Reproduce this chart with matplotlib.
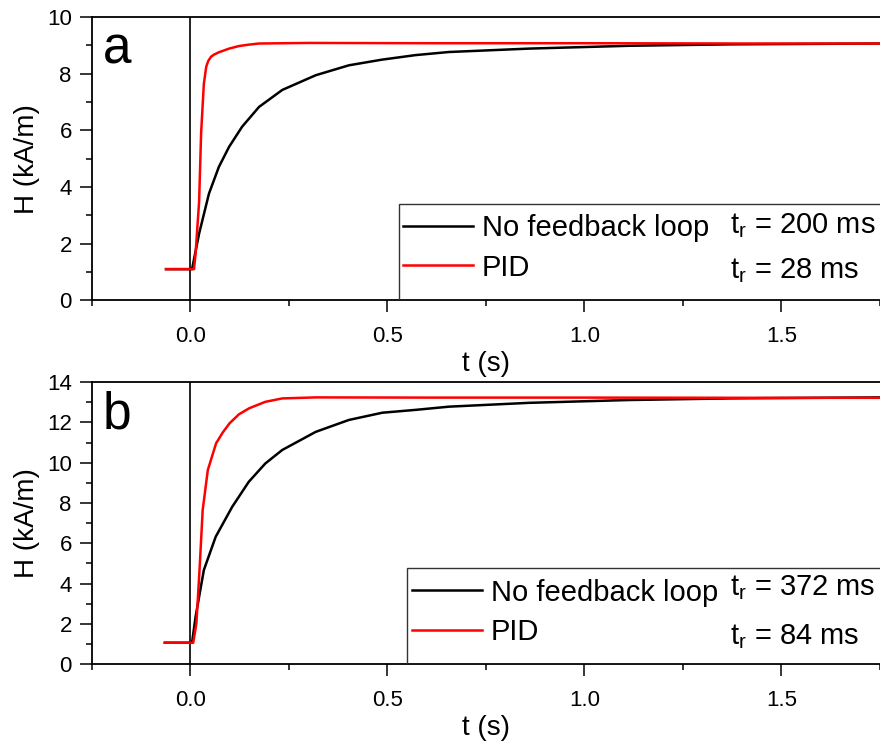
import numpy as np
from matplotlib import pyplot as plt
from matplotlib.patches import Rectangle

plt.rcParams['font.family'] = ['Liberation Sans', 'DejaVu Sans']
plt.rcParams['mathtext.fontset'] = 'custom'
plt.rcParams['mathtext.rm'] = 'Liberation Sans'
plt.rcParams['mathtext.it'] = 'Liberation Sans'

# panel a: H (kA/m) vs t (s)
ta_negro = [-0.062, 0.004, 0.022, 0.047, 0.072, 0.098, 0.131, 0.174, 0.233, 0.318,
            0.402, 0.486, 0.571, 0.656, 0.859, 1.113, 1.367, 1.75]
Ha_negro = [1.1, 1.1, 2.36, 3.77, 4.71, 5.42, 6.13, 6.83, 7.43, 7.95,
            8.3, 8.5, 8.66, 8.77, 8.89, 8.99, 9.04, 9.07]
ta_rojo = [-0.062, 0.009, 0.013, 0.022, 0.027, 0.034, 0.040, 0.045, 0.052, 0.06,
           0.072, 0.098, 0.123, 0.148, 0.174, 0.3, 0.6, 1.0, 1.4, 1.75]
Ha_rojo = [1.1, 1.1, 1.65, 3.5, 5.9, 7.65, 8.25, 8.45, 8.6, 8.68,
           8.76, 8.89, 8.98, 9.03, 9.07, 9.09, 9.08, 9.08, 9.07, 9.07]

# panel b
tb_negro = [-0.065, 0.004, 0.013, 0.034, 0.064, 0.106, 0.148, 0.19, 0.233, 0.318,
            0.402, 0.487, 0.571, 0.656, 0.859, 1.113, 1.367, 1.75]
Hb_negro = [1.06, 1.06, 2.35, 4.67, 6.32, 7.81, 9.05, 9.96, 10.63, 11.53,
            12.12, 12.48, 12.62, 12.78, 12.97, 13.11, 13.19, 13.24]
tb_rojo = [-0.065, 0.007, 0.015, 0.023, 0.031, 0.044, 0.065, 0.082, 0.099, 0.123,
           0.149, 0.19, 0.233, 0.318, 0.6, 1.0, 1.4, 1.75]
Hb_rojo = [1.06, 1.06, 2.02, 4.67, 7.65, 9.63, 10.96, 11.5, 11.95, 12.4,
           12.7, 13.02, 13.19, 13.24, 13.23, 13.23, 13.22, 13.22]

etiquetas = ['No feedback loop', 'PID']
tiempos_a = ['200 ms', '28 ms']
tiempos_b = ['372 ms', '84 ms']


def armar_panel(ax, t1, H1, t2, H2, ymax, letra, tiempos, leg_x, caja_x, caja_h, filas):
  '''
  Dibuja las dos curvas, la leyenda y los ejes de un panel.
  '''
  ax.axvline(0, color='k', lw=1.2, zorder=1)
  l1, = ax.plot(t1, H1, color='k', lw=1.8, zorder=2)
  l2, = ax.plot(t2, H2, color='#ff0000', lw=1.8, zorder=3)

  ax.set_xlim(-0.25, 1.75)
  ax.set_ylim(0, ymax)
  ax.set_xticks([0.0, 0.5, 1.0, 1.5])
  ax.set_xticks([-0.25, 0.25, 0.75, 1.25, 1.75], minor=True)
  ax.set_yticks(np.arange(0, ymax + 1, 2))
  ax.set_yticks(np.arange(1, ymax, 2), minor=True)
  ax.xaxis.set_major_formatter(plt.FormatStrFormatter('%.1f'))
  ax.tick_params(which='major', direction='out', length=8.5, width=1.1, labelsize=16, pad=10)
  ax.tick_params(which='minor', direction='out', length=4.3, width=1.1)
  ax.tick_params(axis='y', pad=6)
  for lado in ['left', 'bottom', 'top']:
    ax.spines[lado].set_linewidth(1.3)
  ax.spines['right'].set_visible(False)

  ax.set_xlabel('t (s)', fontsize=20, labelpad=3)
  ax.set_ylabel('H (kA/m)', fontsize=20, labelpad=5)
  ax.text(0.014, 0.837, letra, transform=ax.transAxes, fontsize=37, va='baseline')

  ax.add_patch(Rectangle((caja_x, 0), 1.0, caja_h, transform=ax.transAxes,
                         fill=False, lw=1.0, edgecolor='#333333', zorder=4))
  ax.legend([l1, l2], etiquetas, loc='center left', bbox_to_anchor=(leg_x, sum(filas) / 2),
            frameon=False, fontsize=21, handlelength=2.4, handletextpad=0.3,
            borderpad=0, borderaxespad=0, labelspacing=0.4)
  for y, tr in zip(filas, tiempos):
    ax.text(0.81, y, r'$\mathregular{t_r}$ = ' + tr, transform=ax.transAxes,
            fontsize=21, va='center')


fig = plt.figure(figsize=(8.8, 7.47), dpi=100)
ax_a = fig.add_axes([0.1045, 0.598, 0.8955, 0.379])
ax_b = fig.add_axes([0.1045, 0.111, 0.8955, 0.3775])

armar_panel(ax_a, ta_negro, Ha_negro, ta_rojo, Ha_rojo, 10, 'a', tiempos_a,
            0.395, 0.39, 0.339, [0.265, 0.106])
armar_panel(ax_b, tb_negro, Hb_negro, tb_rojo, Hb_rojo, 14, 'b', tiempos_b,
            0.406, 0.40, 0.34, [0.27, 0.096])

fig.savefig('out.png', dpi=100)
